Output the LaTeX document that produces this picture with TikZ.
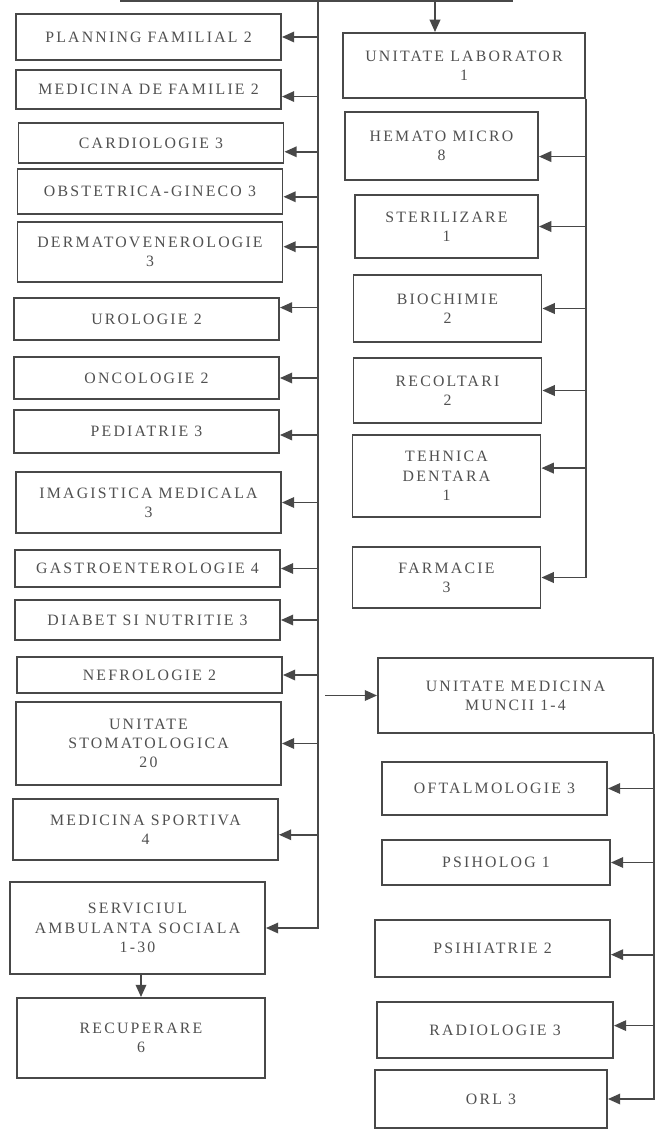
\documentclass[tikz,border=0pt]{standalone}
\usepackage{fontspec}
\setmainfont{Liberation Serif}[LetterSpace=14]
\usetikzlibrary{arrows.meta,positioning}
\definecolor{ink}{RGB}{72,72,72}
\definecolor{txt}{RGB}{80,80,80}
\tikzset{
  link/.style={draw=ink,line width=1pt},
  flow/.style={link,-{Triangle[length=7pt,width=6pt]}},
  box/.style={draw=ink,line width=1.1pt,fill=white,align=center,inner sep=2pt,
              text=txt,font=\fontsize{9}{11}\selectfont},
  leftbox/.style={box,minimum width=5.3cm},
  labbox/.style={box,minimum width=3.76cm},
  workbox/.style={box,minimum width=4.62cm}
}

\begin{document}
\begin{tikzpicture}[x=0.02cm,y=-0.02cm]
  \useasboundingbox (0,0) rectangle (664,1130);
  % left column
  \node[leftbox,minimum height=0.92cm] (plan) at (148.5,37) {PLANNING FAMILIAL 2};
  \node[leftbox,minimum height=0.78cm] (fam) at (148.5,89.5) {MEDICINA DE FAMILIE 2};
  \node[leftbox,minimum height=0.80cm] (card) at (151,143) {CARDIOLOGIE 3};
  \node[leftbox,minimum height=0.90cm] (obst) at (150,191.5) {OBSTETRICA-GINECO 3};
  \node[leftbox,minimum height=1.20cm] (derm) at (150,252) {DERMATOVENEROLOGIE\\3};
  \node[leftbox,minimum height=0.84cm] (uro) at (146.5,319) {UROLOGIE 2};
  \node[leftbox,minimum height=0.84cm] (onco) at (146.5,378) {ONCOLOGIE 2};
  \node[leftbox,minimum height=0.86cm] (ped) at (146.5,431.5) {PEDIATRIE 3};
  \node[leftbox,minimum height=1.22cm] (imag) at (148.5,502.5) {IMAGISTICA MEDICALA\\3};
  \node[leftbox,minimum height=0.74cm] (gastro) at (147.5,568.5) {GASTROENTEROLOGIE 4};
  \node[leftbox,minimum height=0.80cm] (diab) at (147.5,620) {DIABET SI NUTRITIE 3};
  \node[leftbox,minimum height=0.72cm] (nefro) at (149.5,675) {NEFROLOGIE 2};
  \node[leftbox,minimum height=1.66cm] (stoma) at (148.5,743.5) {UNITATE\\STOMATOLOGICA\\20};
  \node[leftbox,minimum height=1.22cm] (sport) at (145.5,829.5) {MEDICINA SPORTIVA\\4};
  \node[box,minimum width=5.1cm,minimum height=1.84cm] (serv) at (137.5,928)
    {SERVICIUL\\AMBULANTA SOCIALA\\1-30};
  \node[box,minimum width=4.96cm,minimum height=1.6cm] (recup) at (141,1038) {RECUPERARE\\6};

  % laboratory
  \node[box,minimum width=4.84cm,minimum height=1.3cm] (lab) at (464,65.5) {UNITATE LABORATOR\\1};
  \node[labbox,minimum width=3.86cm,minimum height=1.36cm] (hem) at (441.5,146) {HEMATO MICRO\\8};
  \node[labbox,minimum width=3.66cm,minimum height=1.26cm] (ster) at (446.5,226.5) {STERILIZARE\\1};
  \node[labbox,minimum height=1.34cm] (bio) at (447.5,308.5) {BIOCHIMIE\\2};
  \node[labbox,minimum height=1.30cm] (recol) at (447.5,390.5) {RECOLTARI\\2};
  \node[labbox,minimum height=1.64cm] (teh) at (446.5,476) {TEHNICA\\DENTARA\\1};
  \node[labbox,minimum height=1.22cm] (farm) at (446.5,577.5) {FARMACIE\\3};

  % occupational medicine
  \node[box,minimum width=5.5cm,minimum height=1.5cm] (munc) at (515.5,695.5)
    {UNITATE MEDICINA\\MUNCII 1-4};
  \node[workbox,minimum width=4.5cm,minimum height=1.06cm] (oft) at (494.5,788.5) {OFTALMOLOGIE 3};
  \node[workbox,minimum width=4.56cm,minimum height=0.90cm] (psiho) at (496,862.5) {PSIHOLOG 1};
  \node[workbox,minimum width=4.7cm,minimum height=1.14cm] (psih) at (492.5,948.5) {PSIHIATRIE 2};
  \node[workbox,minimum width=4.72cm,minimum height=1.12cm] (rad) at (495,1030) {RADIOLOGIE 3};
  \node[workbox,minimum width=4.64cm,minimum height=1.16cm] (orl) at (491,1099) {ORL 3};

  % connectors
  \coordinate (topl) at (120,1);
  \coordinate (topr) at (513,1);
  \coordinate (ltop) at (318,1);
  \coordinate (labin) at (435,1);
  \draw[link] (topl) -- (topr);
  \draw[flow] (labin) -- (labin |- lab.north);
  \draw[flow] (ltop) |- (serv.east);
  \draw[flow] (ltop |- plan.east) -- (plan.east);
  \draw[flow] ([yshift=-4pt]ltop |- fam.east) -- ([yshift=-4pt]fam.east);
  \draw[flow] ([yshift=-5pt]ltop |- card.east) -- ([yshift=-5pt]card.east);
  \draw[flow] ([yshift=-3pt]ltop |- obst.east) -- ([yshift=-3pt]obst.east);
  \draw[flow] ([yshift=3pt]ltop |- derm.east) -- ([yshift=3pt]derm.east);
  \draw[flow] ([yshift=6.5pt]ltop |- uro.east) -- ([yshift=6.5pt]uro.east);
  \draw[flow] (ltop |- onco.east) -- (onco.east);
  \draw[flow] ([yshift=-2pt]ltop |- ped.east) -- ([yshift=-2pt]ped.east);
  \draw[flow] (ltop |- imag.east) -- (imag.east);
  \draw[flow] (ltop |- gastro.east) -- (gastro.east);
  \draw[flow] (ltop |- diab.east) -- (diab.east);
  \draw[flow] (ltop |- nefro.east) -- (nefro.east);
  \draw[flow] (ltop |- stoma.east) -- (stoma.east);
  \draw[flow] ([yshift=-3pt]ltop |- sport.east) -- ([yshift=-3pt]sport.east);
  \draw[flow] (recup.north |- serv.south) -- (recup.north);

  \draw[flow] (lab.south east) |- (farm.east);
  \draw[flow] ([yshift=-6pt]lab.east |- hem.east) -- ([yshift=-6pt]hem.east);
  \draw[flow] (lab.east |- ster.east) -- (ster.east);
  \draw[flow] (lab.east |- bio.east) -- (bio.east);
  \draw[flow] (lab.east |- recol.east) -- (recol.east);
  \draw[flow] ([yshift=4.5pt]lab.east |- teh.east) -- ([yshift=4.5pt]teh.east);

  \draw[flow] ([xshift=4pt]ltop |- munc.west) -- (munc.west);
  \draw[flow] (munc.south east) |- (orl.east);
  \draw[flow] (munc.east |- oft.east) -- (oft.east);
  \draw[flow] (munc.east |- psiho.east) -- (psiho.east);
  \draw[flow] ([yshift=-3.5pt]munc.east |- psih.east) -- ([yshift=-3.5pt]psih.east);
  \draw[flow] ([yshift=2.5pt]munc.east |- rad.east) -- ([yshift=2.5pt]rad.east);
\end{tikzpicture}
\end{document}
